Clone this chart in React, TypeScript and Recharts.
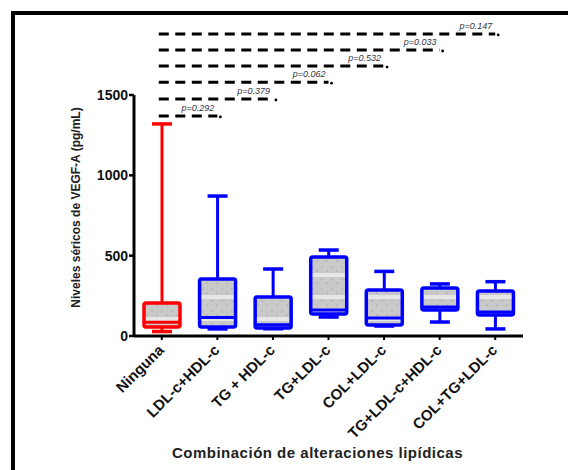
import React from 'react';
import { ComposedChart, Bar, XAxis, YAxis, ReferenceLine } from 'recharts';

const categories = ['Ninguna', 'LDL-c+HDL-c', 'TG + HDL-c', 'TG+LDL-c', 'COL+LDL-c', 'TG+LDL-c+HDL-c', 'COL+TG+LDL-c'];
const whiskerLow = [28, 44, 45, 118, 62, 87, 44];
const quartile1 = [56, 56, 50, 137, 68, 162, 131];
const medians = [85, 115, 70, 162, 112, 180, 150];
const quartile3 = [205, 355, 243, 492, 286, 298, 280];
const whiskerHigh = [1320, 871, 417, 535, 402, 324, 338];

const yTicks = [0, 500, 1000, 1500];
const comparisonLevels = [1370, 1475, 1580, 1680, 1780, 1880];
const pValues = ['p=0.292', 'p=0.379', 'p=0.062', 'p=0.532', 'p=0.033', 'p=0.147'];
const comparedWith = categories.slice(1);

const data = categories.map((name, i) => ({
  name,
  range: [whiskerLow[i], whiskerHigh[i]],
  min: whiskerLow[i],
  q1: quartile1[i],
  median: medians[i],
  q3: quartile3[i],
  max: whiskerHigh[i],
}));

const FONT = '"Liberation Sans", Arial, sans-serif';

const BoxShape = (props: any) => {
  const { x, y, width, height, index } = props;
  const p = props.payload ?? props;
  const top = Math.min(y, y + height);
  const h = Math.abs(height);
  const pix = (v: number) => top + (h * (p.max - v)) / (p.max - p.min);
  const c = index === 0 ? '#ff0000' : '#0000ff';
  const cx = x + width / 2;
  const yMax = pix(p.max);
  const yMin = pix(p.min);
  const yQ1 = pix(p.q1);
  const yQ3 = pix(p.q3);
  const yMed = pix(p.median);
  return (
    <g>
      <line x1={cx} x2={cx} y1={yMax} y2={yQ3} stroke={c} strokeWidth={3} />
      <line x1={cx - 10} x2={cx + 10} y1={yMax} y2={yMax} stroke={c} strokeWidth={3.5} />
      <line x1={cx} x2={cx} y1={yQ1} y2={yMin} stroke={c} strokeWidth={3} />
      <line x1={cx - 10} x2={cx + 10} y1={yMin} y2={yMin} stroke={c} strokeWidth={3.5} />
      <rect x={x} y={yQ3} width={width} height={yQ1 - yQ3} fill="url(#boxFill)" stroke={c} strokeWidth={3.5} rx={2} />
      <line x1={x} x2={x + width} y1={yMed} y2={yMed} stroke={c} strokeWidth={3} />
    </g>
  );
};

const XTick = (props: any) => {
  const { x, y, payload } = props;
  return (
    <g transform={`translate(${x + 3},${y + 9})`}>
      <text textAnchor="end" transform="rotate(-45)" fontSize={15} fontWeight="bold" fill="#111" fontFamily={FONT}>
        {payload.value}
      </text>
    </g>
  );
};

const makePLine = (label: string) => (props: any) => {
  const { x1, y1, x2, y2 } = props;
  return (
    <g>
      <line x1={x1 - 3} y1={y1} x2={x2} y2={y2} stroke="#000" strokeWidth={3} strokeDasharray="10 6.5" />
      <circle cx={x2 + 3} cy={y2 + 1} r={1.4} fill="#000" />
      <text x={x2 - 3} y={y1 - 5} textAnchor="end" fontSize={9} fontStyle="italic" fill="#334" fontFamily={FONT}>
        {label}
      </text>
    </g>
  );
};

const YTitle = (props: any) => {
  const vb = props.viewBox || { x: 0, y: 95, width: 134, height: 241 };
  const cx = vb.x + 76;
  const cy = vb.y + vb.height / 2 - 8;
  return (
    <text x={cx} y={cy} transform={`rotate(-90 ${cx} ${cy})`} textAnchor="middle" dominantBaseline="central" fontSize={12} fontWeight="bold" fill="#222" fontFamily={FONT}>
      Niveles séricos de VEGF-A (pg/mL)
    </text>
  );
};

const XTitle = (props: any) => {
  const vb = props.viewBox || { x: 134, y: 336, width: 389, height: 134 };
  const cx = vb.x + vb.width / 2 - 11;
  const cy = vb.y + 122;
  return (
    <text x={cx} y={cy} textAnchor="middle" fontSize={15} fontWeight="bold" letterSpacing={0.5} fill="#222" fontFamily={FONT}>
      Combinación de alteraciones lipídicas
    </text>
  );
};

export default function App() {
  return (
    <div style={{ position: 'fixed', left: 0, top: 0, width: 568, height: 470, overflow: 'hidden', background: '#fff' }}>
      <div
        style={{
          position: 'absolute',
          left: 11,
          top: 11,
          width: 580,
          height: 480,
          borderLeft: '4px solid #000',
          borderTop: '4px solid #000',
          boxSizing: 'border-box',
        }}
      />
      <div style={{ position: 'absolute', left: 0, top: 0 }}>
        <ComposedChart width={568} height={470} data={data} margin={{ top: 95, right: 45, bottom: 0, left: 0 }}>
          <defs>
            <pattern id="boxFill" width="10" height="22" patternUnits="userSpaceOnUse">
              <rect width="10" height="22" fill="#c9c9c9" />
              <rect y="9" width="10" height="4" fill="#e6e6e6" />
              <circle cx="2" cy="3" r="0.6" fill="#888" />
              <circle cx="7" cy="7" r="0.6" fill="#888" />
              <circle cx="2" cy="15" r="0.6" fill="#888" />
              <circle cx="7" cy="19" r="0.6" fill="#888" />
            </pattern>
          </defs>
          <XAxis
            dataKey="name"
            type="category"
            height={134}
            tickSize={4}
            tickLine={{ stroke: '#000', strokeWidth: 2 }}
            axisLine={{ stroke: '#000', strokeWidth: 3 }}
            tick={<XTick />}
            interval={0}
            label={(p: any) => <XTitle {...p} />}
          />
          <YAxis
            type="number"
            domain={[0, 1500]}
            ticks={yTicks}
            allowDataOverflow
            width={134}
            tickSize={5}
            tickMargin={1}
            tickLine={{ stroke: '#000', strokeWidth: 2.5 }}
            axisLine={{ stroke: '#000', strokeWidth: 3 }}
            tick={{ fontSize: 14, fontWeight: 'bold', fill: '#111', fontFamily: FONT }}
            label={(p: any) => <YTitle {...p} />}
          />
          <Bar dataKey="range" barSize={36} shape={<BoxShape />} isAnimationActive={false} />
          {comparisonLevels.map((lvl, i) => (
            <ReferenceLine
              key={i}
              segment={[
                { x: categories[0], y: lvl },
                { x: comparedWith[i], y: lvl },
              ]}
              ifOverflow="visible"
              shape={makePLine(pValues[i])}
            />
          ))}
        </ComposedChart>
      </div>
    </div>
  );
}
